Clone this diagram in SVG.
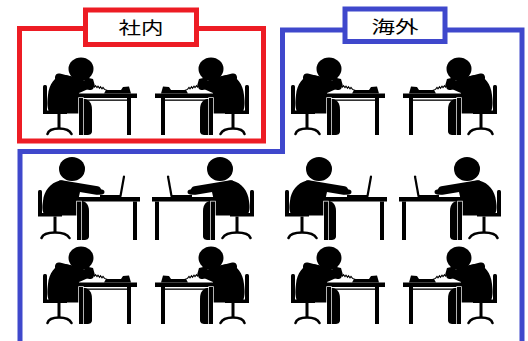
<svg xmlns="http://www.w3.org/2000/svg" xmlns:xlink="http://www.w3.org/1999/xlink" width="528" height="341" viewBox="0 0 528 341">
  <style>
    .red { fill: none; stroke: #ED1C24; stroke-width: 5; }
    .blue { fill: none; stroke: #3F48CC; stroke-width: 5; }
    .lbl-red { fill: #fff; stroke: #ED1C24; stroke-width: 5; }
    .lbl-blue { fill: #fff; stroke: #3F48CC; stroke-width: 5; }
    .lbl { font-family: "Noto Sans CJK JP", "Noto Sans", sans-serif; font-size: 17px; fill: #000; }
    .ink { fill: #000; }
    .sep { fill: #000; stroke: #fff; stroke-width: 1.4; paint-order: stroke; }
    .limb { fill: none; stroke: #000; stroke-linecap: round; stroke-linejoin: round; }
    .cord { fill: none; stroke: #000; stroke-width: 1.1; }
  </style>
  <defs>
    <!-- office worker on the telephone, facing right -->
    <g id="phoneWorker">
      <!-- chair -->
      <rect class="ink" x="43" y="85" width="4" height="27" rx="1.5"/>
      <rect class="ink" x="43" y="110.5" width="24" height="3.5"/>
      <rect class="ink" x="57.5" y="114" width="3" height="14"/>
      <path class="limb" stroke-width="2.6" d="M47.5,134 Q49,128.5 59,128.5 Q69,128.5 71.5,134"/>
      <!-- lower leg -->
      <path class="ink" d="M81,99 C88,98 92,102 92,110 L92,131 C92,134 90,135 87,135 L82,135 Z"/>
      <!-- torso and thigh -->
      <path class="ink" d="M63,75 C55,76.5 49,84 48,95 C47,103 47,109 50,113.5 L84,113.5 C88,113 90,109 88,104 L80,100 L79,93 C84,91 88,89 92,87 C84,81 72,75 63,75 Z"/>
      <!-- head -->
      <ellipse class="ink" cx="81" cy="69" rx="12.5" ry="11.5"/>
      <path class="ink" d="M76,75 C83,80 90,84 95,86 L93,79 Z"/>
      <!-- arm raised to the receiver -->
      <path class="limb" stroke="#fff" stroke-width="8" d="M59,77.5 C70,80 80,84 90,86"/>
      <path class="limb" stroke-width="5.6" d="M59,77.5 C70,80 80,84 90,86"/>
      <!-- telephone cord -->
      <path class="cord" d="M93,85 l1.5,2 l1,-1.4 l1.5,2 l1,-1.4 l1.5,2 l1,-1.4 l1.5,2 l1,-1.4 l1.5,2 l3,1.2"/>
      <!-- telephone -->
      <path class="ink" d="M104,93.5 L106,90 L121,90 L123,87 L129,86.5 L131,93.5 Z"/>
      <!-- desk -->
      <rect class="ink" x="76" y="93.5" width="61" height="4.5"/>
      <rect class="ink" x="80" y="99.5" width="51" height="1.3"/>
      <rect class="sep" x="79" y="98" width="4" height="37"/>
      <rect class="ink" x="127" y="98" width="4" height="37"/>
    </g>
    <!-- office worker at a laptop, facing right -->
    <g id="laptopWorker">
      <!-- chair -->
      <rect class="ink" x="38" y="190" width="4" height="25" rx="1.5"/>
      <rect class="ink" x="38" y="213" width="24" height="3.5"/>
      <rect class="ink" x="53.5" y="216.5" width="3" height="15.5"/>
      <path class="limb" stroke-width="2.6" d="M41.5,238 Q43.5,232.5 55,232.5 Q66.5,232.5 69.5,238"/>
      <!-- lower leg -->
      <path class="ink" d="M78,201 C85,200 89,204 89,211 L89,236 C89,239 87,240 84,240 L79,240 Z"/>
      <!-- torso and thigh -->
      <path class="ink" d="M60,180.5 C50,183 44,191 43,201 C42,207 42,212 45,215.5 L80,215.5 C85,215 87,211 85,206 L78,201 L80,192 C76,186 68,180.5 60,180.5 Z"/>
      <!-- head -->
      <ellipse class="ink" cx="72" cy="169" rx="13" ry="12"/>
      <!-- arm reaching to the keyboard -->
      <path class="limb" stroke="#fff" stroke-width="8.5" d="M61,184.5 L97,190.5"/>
      <path class="limb" stroke-width="6" d="M61,184.5 L97,190.5"/>
      <ellipse class="ink" cx="100" cy="192" rx="4.5" ry="2.8"/>
      <!-- desk -->
      <rect class="ink" x="72" y="197" width="68" height="4.5"/>
      <rect class="sep" x="77" y="201.5" width="4" height="38.5"/>
      <rect class="ink" x="133" y="201.5" width="4" height="38.5"/>
      <!-- laptop -->
      <rect class="ink" x="100" y="195" width="21" height="2"/>
      <path class="limb" stroke-width="2.2" d="M120.5,196 L124,176.5"/>
    </g>
  </defs>

  <!-- in-house area -->
  <g id="inhouse">
    <rect class="red" x="19.5" y="28.5" width="244" height="112.5"/>
    <rect class="lbl-red" x="85.5" y="10" width="111" height="34.5"/>
    <text class="lbl" x="141" y="26.5" dominant-baseline="central" text-anchor="middle" textLength="45" lengthAdjust="spacingAndGlyphs">社内</text>
  </g>

  <!-- overseas area -->
  <g id="overseas">
    <path class="blue" d="M20,345 L20,151.5 L282.5,151.5 L282.5,30 L522,30 L522,345"/>
    <rect class="lbl-blue" x="345" y="9" width="100" height="32.5"/>
    <text class="lbl" x="395" y="25.5" dominant-baseline="central" text-anchor="middle" textLength="47" lengthAdjust="spacingAndGlyphs">海外</text>
  </g>

  <!-- workers: row 1 -->
  <g id="worker-r1-1"><use xlink:href="#phoneWorker"/></g>
  <g id="worker-r1-2"><use xlink:href="#phoneWorker" transform="matrix(-1,0,0,1,292,0)"/></g>
  <g id="worker-r1-3"><use xlink:href="#phoneWorker" transform="translate(248,0)"/></g>
  <g id="worker-r1-4"><use xlink:href="#phoneWorker" transform="matrix(-1,0,0,1,540,0)"/></g>

  <!-- workers: row 2 -->
  <g id="worker-r2-1"><use xlink:href="#laptopWorker"/></g>
  <g id="worker-r2-2"><use xlink:href="#laptopWorker" transform="matrix(-1,0,0,1,292,0)"/></g>
  <g id="worker-r2-3"><use xlink:href="#laptopWorker" transform="translate(247,0)"/></g>
  <g id="worker-r2-4"><use xlink:href="#laptopWorker" transform="matrix(-1,0,0,1,539,0)"/></g>

  <!-- workers: row 3 -->
  <g id="worker-r3-1"><use xlink:href="#phoneWorker" transform="translate(0,189)"/></g>
  <g id="worker-r3-2"><use xlink:href="#phoneWorker" transform="matrix(-1,0,0,1,292,189)"/></g>
  <g id="worker-r3-3"><use xlink:href="#phoneWorker" transform="translate(248,189)"/></g>
  <g id="worker-r3-4"><use xlink:href="#phoneWorker" transform="matrix(-1,0,0,1,540,189)"/></g>
</svg>
